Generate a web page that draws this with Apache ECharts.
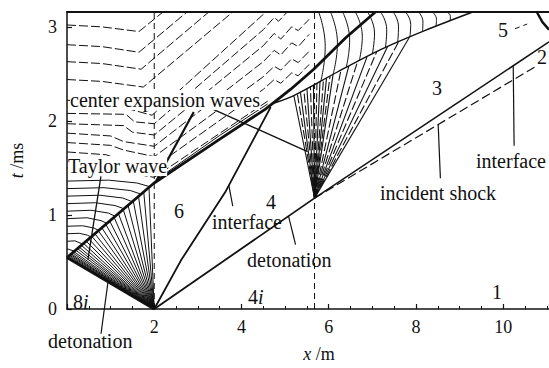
<!DOCTYPE html>
<html>
<head>
<meta charset="utf-8">
<script src="https://cdn.jsdelivr.net/npm/echarts@6/dist/echarts.min.js"></script>
<style>
  html, body { margin: 0; padding: 0; background: #fff; }
  #chart { width: 549px; height: 368px; }
</style>
</head>
<body>
<div id="chart"></div>
<script>
// x-t wave diagram of a detonation initiated at x = 2 m (x in m, t in ms)

const xTicks = [2, 4, 6, 8, 10];
const tTicks = [0, 1, 2, 3];
const xRange = [0, 11.05];
const tRange = [0, 3.158];

// main fronts
const leftDetonation = [[2, 0], [0, 0.547]];
const reflectedShock = [[0, 0.547], [1.99, 1.337], [3.52, 1.811], [4.55, 2.126], [5.13, 2.337], [5.65, 2.547], [6.39, 2.884], [7.07, 3.158]];
const reflectedShockEcho = [[2.05, 1.375], [3.5, 1.845], [4.6, 2.18]];
const rightDetonation = [[2, 0], [5.675, 1.179]];
const contactSurface = [[2, 0], [2.61, 0.515], [3.64, 1.253], [4.67, 2.147]];
const transmittedInterface = [[5.675, 1.179], [11.05, 2.84]];
const incidentShock = [[5.675, 1.179], [10.75, 2.58]];
const expansionTail = [[4.75, 2.19], [5.2, 2.27], [6.2, 2.52], [7.2, 2.76], [8.2, 2.96], [9.3, 3.158]];
const cornerShock = [[10.77, 3.158], [10.9, 3.05], [11.05, 2.97]];
const cornerDash = [[10.27, 2.98], [10.55, 3.03]];
const initialInterfaces = [
  [[2, 0], [2, 3.158]],
  [[5.675, 0], [5.675, 3.158]]
];

// Taylor wave behind the left detonation: rays from (2, 0) to the reflected shock
const taylorFanOrigin = [2, 0];
const taylorFanEnds = [
  [0.00, 0.547], [0.02, 0.555], [0.04, 0.563], [0.06, 0.571], [0.08, 0.579], [0.10, 0.587],
  [0.13, 0.598], [0.16, 0.610], [0.20, 0.626], [0.24, 0.642], [0.28, 0.658], [0.33, 0.677],
  [0.38, 0.697], [0.44, 0.721], [0.50, 0.745], [0.57, 0.772], [0.64, 0.800], [0.72, 0.831],
  [0.80, 0.863], [0.89, 0.899], [0.98, 0.934], [1.08, 0.974], [1.18, 1.013], [1.29, 1.057],
  [1.40, 1.100], [1.52, 1.147], [1.64, 1.195], [1.76, 1.242], [1.88, 1.290]
];

// centred expansion fan at the interface (5.675, 1.179)
const centeredFanOrigin = [5.675, 1.179];
const centeredFanEnds = [
  [5.20, 2.270], [5.28, 2.290], [5.35, 2.310], [5.43, 2.328], [5.50, 2.345], [5.58, 2.365],
  [5.65, 2.383], [5.73, 2.402], [5.80, 2.420], [5.88, 2.440], [5.95, 2.458], [6.03, 2.478],
  [6.10, 2.495], [6.28, 2.539], [6.46, 2.582], [6.66, 2.630], [6.88, 2.683], [7.10, 2.736],
  [7.35, 2.790], [7.60, 2.840], [7.85, 2.890]
];

// characteristics crossing the region left of x = 2 and bending into region 5
const upperCharacteristics = [
  [[0, 3.02], [0.8, 3.0], [1.65, 2.95], [2.2, 3.158]],
  [[0, 2.81], [0.8, 2.79], [1.65, 2.73], [2.75, 3.158]],
  [[0, 2.63], [0.8, 2.61], [1.7, 2.55], [3.25, 3.158]],
  [[0, 2.44], [0.8, 2.42], [1.75, 2.36], [3.8, 3.158]],
  [[0, 2.22], [1.0, 2.18], [1.95, 2.06], [4.56, 3.158]],
  [[0, 2.08], [1.35, 2.07], [1.55, 1.99], [2, 1.97], [4.5, 2.97], [4.75, 3.1], [4.85, 3.06], [5.05, 3.158]],
  [[0, 1.97], [1.3, 1.95], [1.5, 1.88], [2, 1.85], [4.5, 2.80], [4.75, 2.93], [4.9, 2.87], [5.15, 3.0], [5.3, 2.96], [5.55, 3.08]],
  [[0, 1.87], [1.0, 1.84], [1.3, 1.78], [2, 1.73], [4.5, 2.63], [4.75, 2.75], [4.9, 2.70], [5.15, 2.83], [5.3, 2.79], [5.55, 2.92]],
  [[0, 1.77], [1.0, 1.74], [1.3, 1.69], [2, 1.62], [4.5, 2.47], [4.75, 2.58], [4.9, 2.54], [5.15, 2.66], [5.3, 2.62], [5.55, 2.74]],
  [[0, 1.67], [0.9, 1.64], [1.2, 1.59], [2, 1.51], [4.5, 2.335], [4.75, 2.44], [4.9, 2.40], [5.15, 2.51], [5.3, 2.48], [5.55, 2.6]],
  [[0, 1.5], [1.0, 1.48], [2, 1.40], [4.6, 2.21]]
];

// reflected characteristics between the wall and the reflected shock
const wallCharacteristics = [
  [[0, 1.36], [0.95, 1.37], [1.6, 1.34], [1.906, 1.30]],
  [[0, 1.28], [0.85, 1.29], [1.45, 1.26], [1.704, 1.22]],
  [[0, 1.20], [0.75, 1.21], [1.28, 1.18], [1.501, 1.14]],
  [[0, 1.12], [0.65, 1.13], [1.1, 1.10], [1.311, 1.065]],
  [[0, 1.04], [0.55, 1.05], [0.95, 1.02], [1.109, 0.985]],
  [[0, 0.96], [0.46, 0.97], [0.78, 0.94], [0.919, 0.91]],
  [[0, 0.88], [0.36, 0.885], [0.62, 0.86], [0.729, 0.835]],
  [[0, 0.80], [0.28, 0.805], [0.47, 0.785], [0.552, 0.765]],
  [[0, 0.72], [0.18, 0.725], [0.362, 0.69]],
  [[0, 0.64], [0.172, 0.615]]
];

// expansion waves refracted through the reflected shock
const refractedWaves = [
  [[5.77, 3.158], [5.92, 2.79], [5.82, 2.425]],
  [[6.04, 3.158], [6.20, 2.83], [6.10, 2.495]],
  [[6.32, 3.158], [6.48, 2.86], [6.40, 2.568]],
  [[6.61, 3.158], [6.77, 2.90], [6.70, 2.640]],
  [[6.89, 3.158], [7.05, 2.935], [7.00, 2.712]],
  [[7.19, 3.158], [7.33, 2.97], [7.30, 2.780]],
  [[7.48, 3.158], [7.60, 3.00], [7.58, 2.836]],
  [[7.76, 3.158], [7.88, 3.025], [7.86, 2.892]],
  [[8.06, 3.158], [8.16, 3.055], [8.15, 2.950]],
  [[8.38, 3.158], [8.47, 3.08], [8.46, 3.007]],
  [[8.72, 3.158], [8.79, 3.11], [8.78, 3.064]]
];

// leader lines from the annotations to the features they name
const leaders = [
  { pts: [[2.906, 2.095], [2.04, 1.358]], w: 2.2 },
  { pts: [[3.34, 2.126], [5.515, 1.674]], w: 1.4 },
  { pts: [[0.778, 1.41], [0.48, 0.526]], w: 1.3 },
  { pts: [[5.24, 0.684], [5.08, 0.985]], w: 1.2 },
  { pts: [[0.78, -0.263], [0.94, 0.29]], w: 1.2 },
  { pts: [[3.80, 1.095], [3.71, 1.314]], w: 1.2 },
  { pts: [[8.51, 1.96], [8.56, 1.39]], w: 1.2 },
  { pts: [[10.23, 2.586], [10.25, 1.737]], w: 1.2 }
];

const SERIF = 'Liberation Serif, serif';
const INK = '#111';

function path(points, width, dash, extra) {
  return Object.assign({
    type: 'line',
    data: points,
    symbol: 'none',
    silent: true,
    animation: false,
    lineStyle: { color: INK, width: width, type: dash || 'solid', cap: 'butt' },
    z: 2
  }, extra || {});
}

const series = [];
initialInterfaces.forEach(p => series.push(path(p, 1, [6, 4])));
taylorFanEnds.forEach(e => series.push(path([taylorFanOrigin, e], 1)));
wallCharacteristics.forEach(p => series.push(path(p, 1)));
upperCharacteristics.forEach(p => series.push(path(p, 1, [9, 3])));
centeredFanEnds.forEach((e, i) => series.push(path([centeredFanOrigin, e], 1.1, i % 2 ? [9, 3] : 'solid')));
refractedWaves.forEach(p => series.push(path(p, 1, 'solid', { smooth: 0.5 })));
series.push(path(leftDetonation, 2.8));
series.push(path(reflectedShock, 2.8));
series.push(path(reflectedShockEcho, 1));
series.push(path(rightDetonation, 1.8));
series.push(path(contactSurface, 1.8));
series.push(path(transmittedInterface, 1.5));
series.push(path(incidentShock, 1.2, [9, 4]));
series.push(path(expansionTail, 1.4, 'solid', { smooth: 0.3 }));
series.push(path(cornerShock, 2.4));
series.push(path(cornerDash, 1, [5, 4]));
leaders.forEach(l => series.push(path(l.pts, l.w, 'solid', { clip: false, z: 5 })));

const annotations = [
  { text: 'center expansion waves', x: 70, y: 100, bg: true },
  { text: 'Taylor wave', x: 68, y: 166, bg: true },
  { text: 'interface', x: 212, y: 222 },
  { text: 'detonation', x: 247, y: 260 },
  { text: 'detonation', x: 48, y: 341 },
  { text: 'incident shock', x: 380, y: 193 },
  { text: 'interface', x: 476, y: 161 },
  { text: '6', x: 179, y: 211, c: true },
  { text: '4', x: 271, y: 202, c: true },
  { text: '3', x: 437, y: 88, c: true },
  { text: '5', x: 503, y: 30, c: true },
  { text: '2', x: 542, y: 57, c: true },
  { text: '1', x: 497, y: 292, c: true },
  { text: '8{i|i}', x: 73, y: 302 },
  { text: '4{i|i}', x: 248, y: 297 }
];

const graphic = annotations.map(a => ({
  type: 'text',
  x: a.x,
  y: a.y,
  z: 50,
  silent: true,
  style: {
    text: a.text,
    font: '20px ' + SERIF,
    fill: INK,
    align: a.c ? 'center' : 'left',
    verticalAlign: 'middle',
    backgroundColor: a.bg ? '#fff' : 'transparent',
    rich: { i: { font: 'italic 20px ' + SERIF, fill: INK } }
  }
}));

const chart = echarts.init(document.getElementById('chart'), null, { renderer: 'svg' });

chart.setOption({
  animation: false,
  backgroundColor: '#fff',
  grid: { left: 66, right: 0, top: 12, bottom: 56, containLabel: false },
  xAxis: [{
    type: 'value',
    min: xRange[0], max: xRange[1], interval: 2,
    name: '{i|x} /m',
    nameLocation: 'middle',
    nameGap: 36,
    nameTextStyle: {
      color: INK, fontFamily: SERIF, fontSize: 18, padding: [0, 0, 0, 22],
      rich: { i: { fontStyle: 'italic', fontFamily: SERIF, fontSize: 18, color: INK } }
    },
    axisLine: { show: true, lineStyle: { color: INK, width: 1.5 } },
    axisTick: { show: true, inside: true, length: 5, lineStyle: { color: INK, width: 1.2 } },
    minorTick: { show: true, splitNumber: 4, length: 3, lineStyle: { color: INK, width: 1 } },
    axisLabel: {
      color: INK, fontFamily: SERIF, fontSize: 18, margin: 9,
      showMinLabel: false, showMaxLabel: false,
      formatter: v => (xTicks.indexOf(v) >= 0 ? String(v) : '')
    },
    splitLine: { show: false }
  }, {
    type: 'value',
    position: 'top',
    min: xRange[0], max: xRange[1],
    axisLine: { show: true, lineStyle: { color: INK, width: 2 } },
    axisTick: { show: false },
    axisLabel: { show: false },
    splitLine: { show: false }
  }],
  yAxis: {
    type: 'value',
    min: tRange[0], max: tRange[1], interval: 1,
    name: '{i|t} /ms',
    nameLocation: 'middle',
    nameGap: 41,
    nameTextStyle: {
      color: INK, fontFamily: SERIF, fontSize: 18,
      rich: { i: { fontStyle: 'italic', fontFamily: SERIF, fontSize: 18, color: INK } }
    },
    axisLine: { show: true, lineStyle: { color: INK, width: 1.5 } },
    axisTick: { show: true, inside: true, length: 5, lineStyle: { color: INK, width: 1.2 } },
    axisLabel: {
      color: INK, fontFamily: SERIF, fontSize: 18, margin: 10,
      showMaxLabel: false,
      formatter: v => (tTicks.indexOf(v) >= 0 ? String(v) : '')
    },
    splitLine: { show: false }
  },
  series: series,
  graphic: graphic
});
</script>
</body>
</html>
